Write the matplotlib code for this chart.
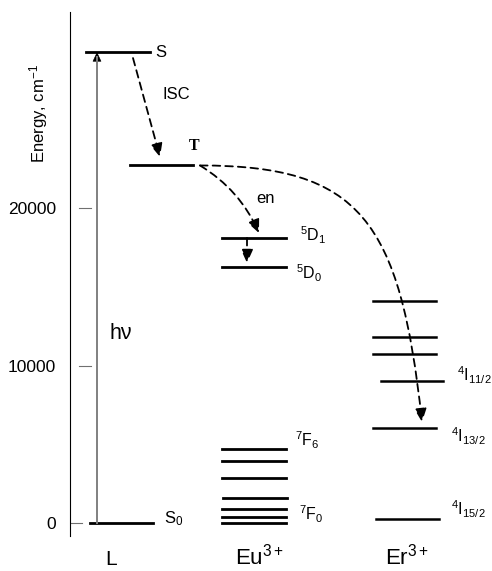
import numpy as np
import matplotlib
matplotlib.use('Agg')
import matplotlib.pyplot as plt
from matplotlib.patches import FancyArrowPatch
from matplotlib.path import Path

plt.rcParams['font.family'] = ['Liberation Sans', 'DejaVu Sans']
plt.rcParams['mathtext.fontset'] = 'custom'
plt.rcParams['mathtext.rm'] = 'Liberation Sans'
plt.rcParams['mathtext.it'] = 'Liberation Sans:italic'
plt.rcParams['mathtext.bf'] = 'Liberation Sans:bold'

# energy levels, cm-1
ligand_levels = {'S0': 0, 'T': 22700, 'S': 29900}
eu_levels = [0, 380, 890, 1590, 2860, 3940, 4700, 16250, 18100]
er_levels = [250, 6030, 9020, 10730, 11810, 14100]
yticks = [0, 10000, 20000]
columns = ['L', 'Eu$^{3+}$', 'Er$^{3+}$']

fig = plt.figure(figsize=(4.92, 5.71), dpi=100)
ax = fig.add_axes([70/492, 35/571, 422/492, 524/571])
ax.set_xlim(70, 492)
ax.set_ylim(-825, 32444)

for sp in ['top', 'right', 'bottom']:
    ax.spines[sp].set_visible(False)
ax.spines['left'].set_linewidth(0.8)
ax.set_xticks([])
ax.set_yticks(yticks)
ax.set_yticklabels([str(t) for t in yticks], fontsize=12.5)
ax.tick_params(axis='y', length=0, pad=10)
# detached tick marks as in the original
tick_x0 = [70, 79, 79]
for t, x0 in zip(yticks, tick_x0):
    ax.plot([x0, x0 + 12], [t, t], color='#707070', lw=0.8)

ax.set_ylabel('Energy, cm$^{-1}$', fontsize=12)
ax.yaxis.set_label_coords(-0.047, 0.807)

lw_level = 2.0
# ligand levels
ax.plot([86, 150], [ligand_levels['S']] * 2, color='black', lw=lw_level)
ax.plot([130, 193], [ligand_levels['T']] * 2, color='black', lw=lw_level)
ax.plot([90, 153], [ligand_levels['S0']] * 2, color='black', lw=lw_level)

# Eu levels
for i, e in enumerate(eu_levels):
    x0, x1 = (223, 287) if i == 3 else (222, 286)
    ax.plot([x0, x1], [e, e], color='black', lw=lw_level)

# Er levels
for i, e in enumerate(er_levels):
    if i == 0:
        x0, x1 = 376, 439
    elif i == 2:
        x0, x1 = 381, 443
    else:
        x0, x1 = 373, 436
    ax.plot([x0, x1], [e, e], color='black', lw=lw_level - 0.2)

# absorption h nu
ax.plot([97, 97], [ligand_levels['S0'], ligand_levels['S'] - 300], color='#808080', lw=1.4)
ax.add_patch(FancyArrowPatch((97, ligand_levels['S'] - 600), (97, ligand_levels['S']),
                             arrowstyle='-|>,head_length=0.6,head_width=0.28', mutation_scale=10,
                             color='black', lw=0.5, shrinkA=0, shrinkB=0))

dash = (0, (4.2, 2.8))
head = '-|>,head_length=0.8,head_width=0.36'
lw_arrow = 1.3

# ISC
ax.add_patch(FancyArrowPatch((133, ligand_levels['S'] - 380), (160, ligand_levels['T'] + 540),
                             arrowstyle=head, mutation_scale=10, color='black',
                             lw=lw_arrow, linestyle=dash, shrinkA=0, shrinkB=0))

# T -> Eu 5D1
T = ligand_levels['T']
p = Path([(200, T), (240, 21150), (259, eu_levels[8] + 310)],
         [Path.MOVETO, Path.CURVE3, Path.CURVE3])
ax.add_patch(FancyArrowPatch(path=p, arrowstyle=head, mutation_scale=10, color='black',
                             lw=lw_arrow, linestyle=dash))

# 5D1 -> 5D0
ax.add_patch(FancyArrowPatch((247, eu_levels[8]), (247, eu_levels[7] + 260),
                             arrowstyle=head, mutation_scale=10, color='black',
                             lw=lw_arrow, linestyle=dash, shrinkA=0, shrinkB=0))

# T -> Er 4I13/2
p = Path([(200, T), (360, T), (400, 19240), (422, er_levels[1] + 380)],
         [Path.MOVETO, Path.CURVE4, Path.CURVE4, Path.CURVE4])
ax.add_patch(FancyArrowPatch(path=p, arrowstyle=head, mutation_scale=10, color='black',
                             lw=lw_arrow, linestyle=dash))

# labels
fs = 11.5
ax.text(155, ligand_levels['S'], 'S', fontsize=12, va='center')
ax.text(163, 27200, 'ISC', fontsize=12, va='center')
ax.text(194, T + 1250, 'T', fontsize=11.5, va='center', ha='center',
        family='Liberation Serif', weight='bold')
ax.text(256, 20580, 'en', fontsize=12, va='center')
ax.text(110, 12040, 'hν', fontsize=15.5, va='center')
ax.text(164, ligand_levels['S0'] + 250, 'S$_0$', fontsize=12, va='center')

ax.text(300, eu_levels[8] + 190, '$^5$D$_1$', fontsize=fs, va='center')
ax.text(296, eu_levels[7] - 380, '$^5$D$_0$', fontsize=fs, va='center')
ax.text(295, eu_levels[6] + 570, '$^7$F$_6$', fontsize=fs, va='center')
ax.text(299, eu_levels[0] + 570, '$^7$F$_0$', fontsize=fs, va='center')

ax.text(457, er_levels[2] + 380, '$^4$I$_{11/2}$', fontsize=fs, va='center')
ax.text(451, er_levels[1] - 510, '$^4$I$_{13/2}$', fontsize=fs, va='center')
ax.text(451, er_levels[0] + 635, '$^4$I$_{15/2}$', fontsize=fs, va='center')

col_x = [111, 259, 407]
col_fs = [15, 16, 16]
for name, x, f in zip(columns, col_x, col_fs):
    ax.text(x, -2650, name, fontsize=f, ha='center', va='baseline')

fig.savefig('out.png', dpi=100)
